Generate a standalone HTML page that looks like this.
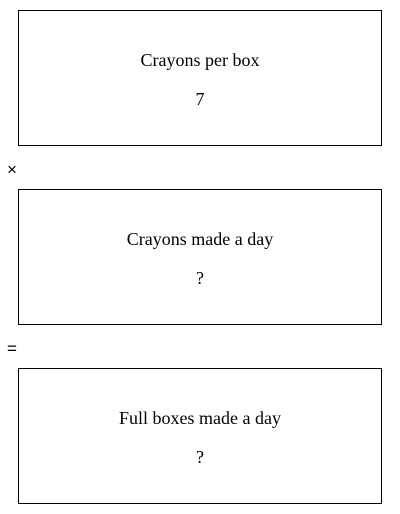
<!DOCTYPE html>
<html><head><meta charset="utf-8"><style>
body{margin:0;width:400px;height:514px;background:#fff;position:relative;font-family:"Liberation Serif",serif;color:#000}
.box{position:absolute;left:18px;width:362px;height:134px;border:1px solid #000;text-align:center;font-size:18px}
.box .t{position:absolute;left:0;right:0;top:39px}
.box .v{position:absolute;left:0;right:0;top:78px}
.op{position:absolute;left:7px;font-family:"Liberation Sans",sans-serif;font-size:17px}
</style></head><body>
<div class="box" style="top:10px"><div class="t">Crayons per box</div><div class="v">7</div></div>
<div class="op" style="top:160px">×</div>
<div class="box" style="top:189px"><div class="t">Crayons made a day</div><div class="v">?</div></div>
<div class="op" style="top:339px">=</div>
<div class="box" style="top:368px"><div class="t">Full boxes made a day</div><div class="v">?</div></div>
</body></html>
